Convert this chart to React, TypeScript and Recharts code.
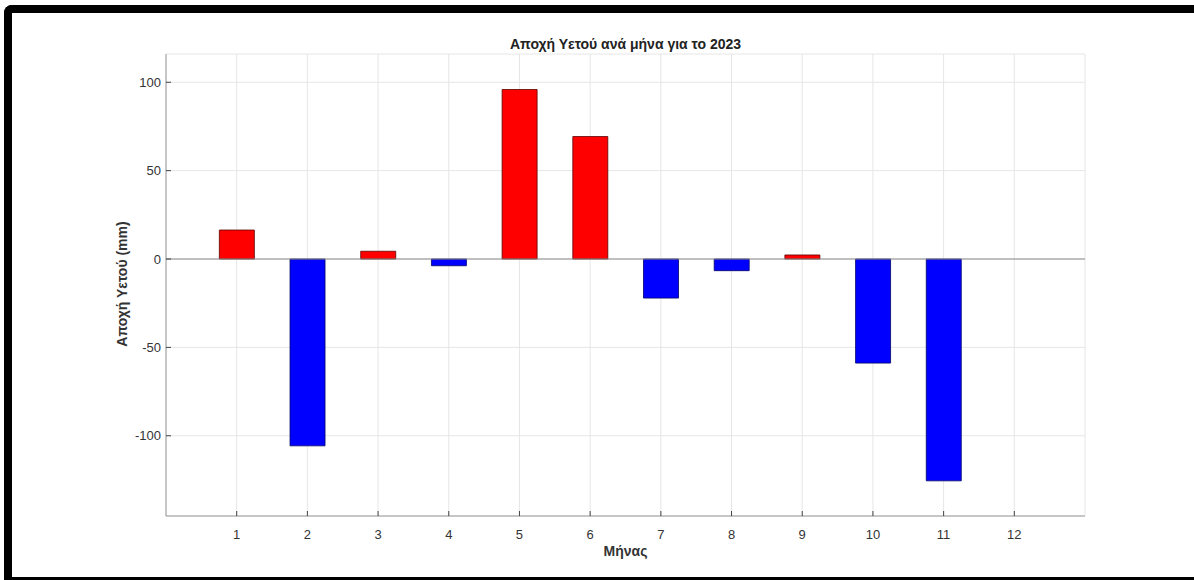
import { Bar, BarChart, CartesianGrid, Cell, ReferenceLine, XAxis, YAxis } from "recharts"

const months = [1, 2, 3, 4, 5, 6, 7, 8, 9, 10, 11, 12]
const anomaly = [16.4, -105.7, 4.4, -3.8, 95.9, 69.3, -22.1, -6.6, 2.3, -58.9, -125.5, 0]
const xTicks = [1, 2, 3, 4, 5, 6, 7, 8, 9, 10, 11, 12]
const yTicks = [-100, -50, 0, 50, 100]

const chartData = months.map((m, i) => ({ month: m, value: anomaly[i] }))

const font = "'Liberation Sans', Arial, Helvetica, sans-serif"
const boxColor = "#9a9a9a"

export default function App() {
  return (
    <div style={{ position: "fixed", left: 0, top: 0, width: 1194, height: 580, background: "#fff", fontFamily: font }}>
      <BarChart
        width={1194}
        height={580}
        data={chartData}
        margin={{ top: 54, right: 109, bottom: 34, left: 106 }}
      >
        <CartesianGrid stroke="#e6e6e6" strokeWidth={1} />
        <XAxis
          dataKey="month"
          type="number"
          domain={[0, 13]}
          ticks={xTicks}
          height={30}
          stroke={boxColor}
          tickSize={-5}
          tickMargin={19}
          tickLine={{ stroke: "#444" }}
          tick={{ fill: "#333", fontSize: 13, fontFamily: font }}
          interval={0}
          label={{ value: "Μήνας", position: "insideBottom", offset: -10, fill: "#333", fontSize: 14, fontWeight: "bold", fontFamily: font }}
        />
        <XAxis
          xAxisId="top"
          orientation="top"
          type="number"
          domain={[0, 13]}
          ticks={xTicks}
          height={0}
          stroke={boxColor}
          tickSize={-5}
          tickLine={{ stroke: "#444" }}
          tick={false}
        />
        <YAxis
          type="number"
          domain={[-145.4, 116]}
          allowDataOverflow
          ticks={yTicks}
          width={60}
          stroke={boxColor}
          tickSize={-5}
          tickMargin={10}
          tickLine={{ stroke: "#444" }}
          tick={{ fill: "#333", fontSize: 13, fontFamily: font }}
        />
        <YAxis
          yAxisId="right"
          orientation="right"
          type="number"
          domain={[-145.4, 116]}
          allowDataOverflow
          ticks={yTicks}
          width={0}
          stroke={boxColor}
          tickSize={-5}
          tickLine={{ stroke: "#666" }}
          tick={false}
        />
        <ReferenceLine y={0} stroke="#8c8c8c" strokeWidth={1.2} />
        <Bar dataKey="value" barSize={35} stroke="#333" strokeWidth={0.8} isAnimationActive={false}>
          {chartData.map((d, i) => (
            <Cell key={i} fill={d.value >= 0 ? "#ff0000" : "#0000ff"} stroke={d.value >= 0 ? "#5a0000" : "#00006a"} />
          ))}
        </Bar>
        <text x={625.5} y={49} textAnchor="middle" fontSize={14} fontWeight="bold" fill="#222" fontFamily={font}>
          Αποχή Υετού ανά μήνα για το 2023
        </text>
        <text
          x={127}
          y={284}
          transform="rotate(-90 127 284)"
          textAnchor="middle"
          fontSize={14}
          fontWeight="bold"
          fill="#333"
          fontFamily={font}
        >
          Αποχή Υετού (mm)
        </text>
      </BarChart>
      <div
        style={{
          position: "absolute",
          left: 4,
          top: 5,
          width: 1190,
          height: 575,
          boxSizing: "border-box",
          borderTop: "8px solid #000",
          borderLeft: "8px solid #000",
          borderBottom: "3px solid #000",
          borderTopLeftRadius: 8,
          pointerEvents: "none",
        }}
      />
    </div>
  )
}
